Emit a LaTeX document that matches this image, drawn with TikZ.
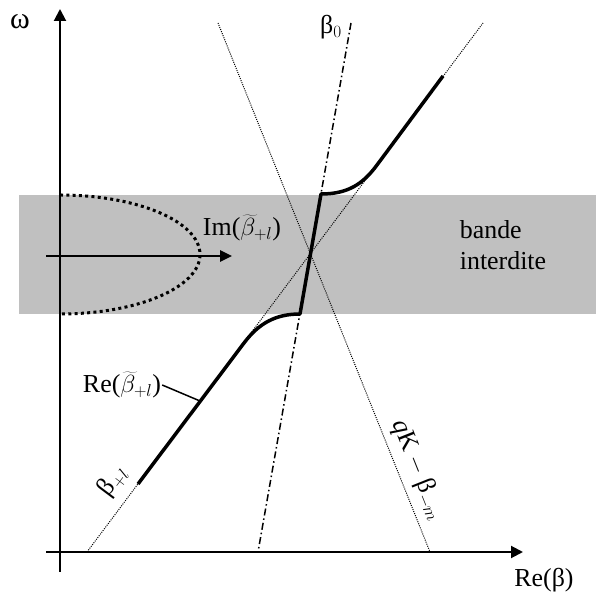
\documentclass[tikz,border=0pt]{standalone}
\usepackage{fontspec}
\setmainfont{Liberation Serif}
\usetikzlibrary{arrows.meta}
\definecolor{bandgray}{RGB}{192,192,192}
\tikzset{
  axis/.style={
    line width=2bp,
    -{Triangle[length=12bp,width=12bp]}
  },
  guide/.style={
    line width=1bp,
    dash pattern=on 1bp off 1.2bp
  },
  beamline/.style={
    line width=1.5bp,
    dash pattern=on 7bp off 3bp on 1.5bp off 3bp
  },
  branch/.style={
    line width=3.5bp,
    line join=round
  },
  lbl/.style={
    font=\fontsize{26}{31}\selectfont,
    inner sep=1bp
  }
}

\begin{document}
\begin{tikzpicture}[x=1bp,y=1bp]
  \useasboundingbox (0,0) rectangle (596,595);

  % forbidden band
  \fill[bandgray] (19,281) rectangle (596,400);

  % dispersion lines
  \coordinate (bl0) at (87,43);
  \coordinate (bl1) at (483,572);
  \coordinate (qk0) at (218,572);
  \coordinate (qk1) at (430,43);
  \coordinate (b00) at (351,572);
  \coordinate (b01) at (258,43);
  \draw[guide] (bl0) -- (bl1);
  \draw[guide] (qk0) -- (qk1);
  \draw[beamline] (b00) -- (b01);

  % coupled branch
  \coordinate (lo) at (138,111);
  \coordinate (up) at (443,519);
  \draw[branch] (lo) -- (244,252) .. controls (259,272) and (276,281) .. (300,281)
    -- (321,401) .. controls (348,401) and (363,411) .. (377,430) -- (up);

  % imaginary part
  \draw[line width=3bp, dash pattern=on 3bp off 3.3bp]
    (60,400) arc[start angle=90, end angle=-90, x radius=140, y radius=59.5];
  \coordinate (im0) at (46,339);
  \coordinate (im1) at (232,339);
  \draw[line width=2.5bp, -{Triangle[length=12bp,width=11bp]}] (im0) -- (im1);

  % axes
  \coordinate (ox0) at (46,43);
  \coordinate (ox1) at (523,43);
  \coordinate (oy0) at (60,23);
  \coordinate (oy1) at (60,586);
  \draw[axis] (ox0) -- (ox1);
  \draw[axis] (oy0) -- (oy1);

  % labels
  \node[lbl, font=\fontsize{30}{34}\selectfont] (omega) at (20,573) {ω};
  \node[lbl] (reb) at (544,15) {Re(β)};
  \node[lbl] (beta0) at (331,568) {β$_{0}$};
  \node[lbl] (imlbl) at (242,367) {Im($\widetilde{\beta}_{+l}$)};
  \node[lbl] (relbl) at (122,210) {Re($\widetilde{\beta}_{+l}$)};
  \node[lbl, align=left] (band) at (503,350) {bande\\interdite};
  \node[lbl, rotate=-68.2] (qkm) at (418,125) {\textit{q}K $-$ β$_{-m}$};
  \node[lbl, rotate=53.2] (bpl) at (113,114) {β$_{+l}$};

  \coordinate (rept) at (200,194);
  \draw[line width=1.5bp] (relbl.east) -- (rept);
\end{tikzpicture}
\end{document}
